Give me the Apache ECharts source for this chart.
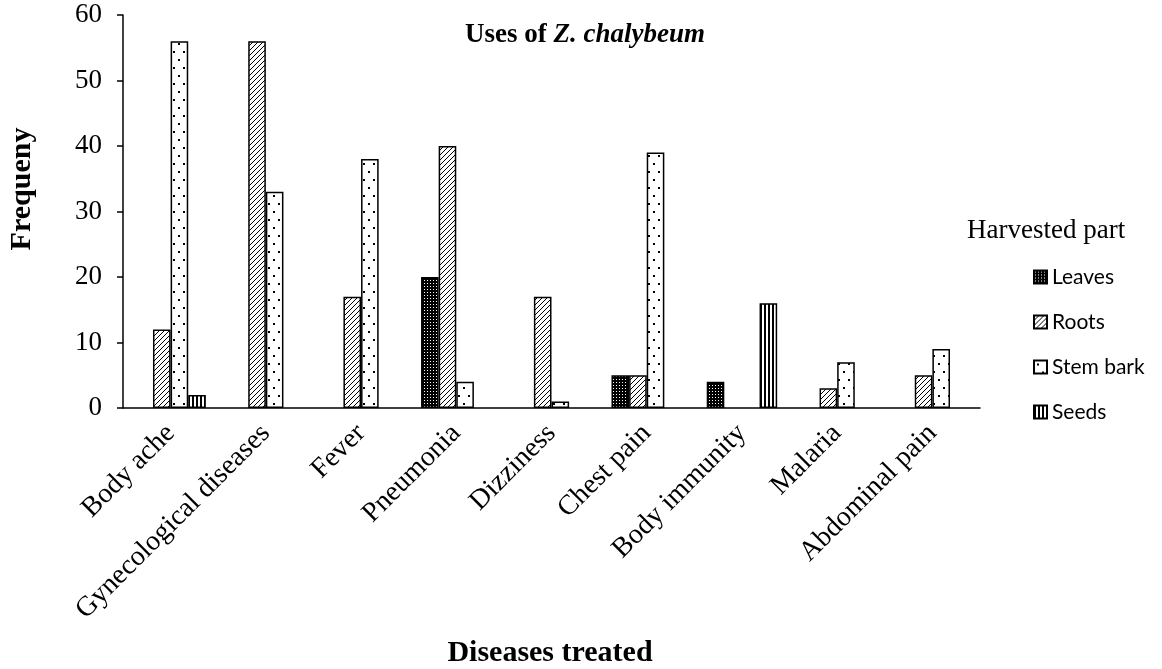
<!DOCTYPE html>
<html>
<head>
<meta charset="utf-8">
<script src="https://cdn.jsdelivr.net/npm/echarts@6/dist/echarts.min.js"></script>
<style>
    html, body { margin: 0; padding: 0; background: #fff; }
    #chart { width: 1162px; height: 669px; }
</style>
</head>
<body>
<div id="chart"></div>
<script>
// 数据
const diseases = ["Body ache", "Gynecological diseases", "Fever", "Pneumonia", "Dizziness", "Chest pain", "Body immunity", "Malaria", "Abdominal pain"];
const leaves = [0, 0, 0, 20, 0, 5, 4, 0, 0];
const roots = [12, 56, 17, 40, 17, 5, 0, 3, 5];
const stemBark = [56, 33, 38, 4, 1, 39, 0, 7, 9];
const seeds = [2, 0, 0, 0, 0, 0, 16, 0, 0];
const yTicks = [0, 10, 20, 30, 40, 50, 60];

// 填充图案
function makePattern(w, h, draw) {
    const c = document.createElement("canvas");
    c.width = w;
    c.height = h;
    const ctx = c.getContext("2d");
    draw(ctx);
    return { image: c, repeat: "repeat" };
}
const leavesFill = makePattern(3, 3, function (ctx) { //黑底白点
    ctx.fillStyle = "#000";
    ctx.fillRect(0, 0, 3, 3);
    ctx.fillStyle = "#fff";
    ctx.fillRect(1, 1, 1, 1);
});
const rootsFill = makePattern(5, 5, function (ctx) { //斜线
    ctx.fillStyle = "#fff";
    ctx.fillRect(0, 0, 5, 5);
    ctx.strokeStyle = "#000";
    ctx.lineWidth = 1;
    ctx.beginPath();
    ctx.moveTo(-1, 6); ctx.lineTo(6, -1);
    ctx.moveTo(-1, 1); ctx.lineTo(1, -1);
    ctx.moveTo(4, 6); ctx.lineTo(6, 4);
    ctx.stroke();
});
const stemFill = makePattern(10, 16, function (ctx) { //稀疏点
    ctx.fillStyle = "#fff";
    ctx.fillRect(0, 0, 10, 16);
    ctx.fillStyle = "#000";
    ctx.fillRect(3, 3, 2, 2);
    ctx.fillRect(8, 11, 2, 2);
});
const seedsFill = makePattern(4, 4, function (ctx) { //竖线
    ctx.fillStyle = "#fff";
    ctx.fillRect(0, 0, 4, 4);
    ctx.fillStyle = "#000";
    ctx.fillRect(0, 0, 2, 4);
});

const my_echart = echarts.init(document.getElementById("chart"));
function barSeries(name, data, fill) {
    return {
        name: name,
        type: "bar",
        data: data.map(function (v) { return v === 0 ? "-" : v; }), //0不画柱子
        barGap: "0%",
        barCategoryGap: "26%",
        itemStyle: {
            color: fill,
            borderColor: "#000",
            borderWidth: 1.5
        },
        emphasis: { disabled: true }
    };
}
let option = {
    animation: false,
    graphic: [
        { //标题
            type: "text",
            style: {
                x: 585,
                y: 35,
                align: "center",
                verticalAlign: "middle",
                text: "{b|Uses of }{i|Z. chalybeum}",
                rich: {
                    b: { fontFamily: "Liberation Serif", fontWeight: "bold", fontSize: 27, fill: "#000" },
                    i: { fontFamily: "Liberation Serif", fontWeight: "bold", fontStyle: "italic", fontSize: 27, fill: "#000" }
                }
            }
        },
        { //图例标题
            type: "text",
            style: {
                x: 967,
                y: 231,
                align: "left",
                verticalAlign: "middle",
                text: "Harvested part",
                font: "27px 'Liberation Serif'",
                fill: "#000"
            }
        },
        { //y轴名称
            type: "text",
            x: 22,
            y: 189,
            rotation: Math.PI / 2,
            style: {
                x: 0,
                y: 0,
                align: "center",
                verticalAlign: "middle",
                text: "Frequeny",
                font: "bold 30px 'Liberation Serif'",
                fill: "#000"
            }
        },
        { //x轴名称
            type: "text",
            style: {
                x: 550,
                y: 653,
                align: "center",
                verticalAlign: "middle",
                text: "Diseases treated",
                font: "bold 30px 'Liberation Serif'",
                fill: "#000"
            }
        }
    ],
    legend: {
        orient: "vertical",
        left: 1033,
        top: 266,
        padding: 0,
        itemGap: 23,
        itemWidth: 13,
        itemHeight: 13,
        icon: "rect",
        textStyle: {
            fontFamily: "Lato",
            fontSize: 21,
            lineHeight: 22,
            color: "#000"
        },
        data: ["Leaves", "Roots", "Stem bark", "Seeds"]
    },
    grid: {
        left: 123,
        right: 182,
        top: 15,
        bottom: 261
    },
    xAxis: {
        type: "category",
        data: diseases,
        axisLine: { lineStyle: { color: "#000", width: 1.5 } },
        axisTick: { show: false },
        axisLabel: {
            rotate: 45,
            interval: 0,
            margin: 21,
            fontFamily: "Liberation Serif",
            fontSize: 28,
            color: "#000"
        }
    },
    yAxis: {
        type: "value",
        min: yTicks[0],
        max: yTicks[yTicks.length - 1],
        interval: 10,
        axisLine: { show: true, lineStyle: { color: "#000", width: 1.5 } },
        axisTick: { show: true, length: 6, lineStyle: { color: "#000", width: 1.5 } },
        splitLine: { show: false },
        axisLabel: {
            margin: 21,
            fontFamily: "Liberation Serif",
            fontSize: 27,
            color: "#000"
        }
    },
    series: [
        barSeries("Leaves", leaves, leavesFill),
        barSeries("Roots", roots, rootsFill),
        barSeries("Stem bark", stemBark, stemFill),
        barSeries("Seeds", seeds, seedsFill)
    ]
};
my_echart.setOption(option);
window.addEventListener("resize", function () {
    my_echart.resize();
});
</script>
</body>
</html>
